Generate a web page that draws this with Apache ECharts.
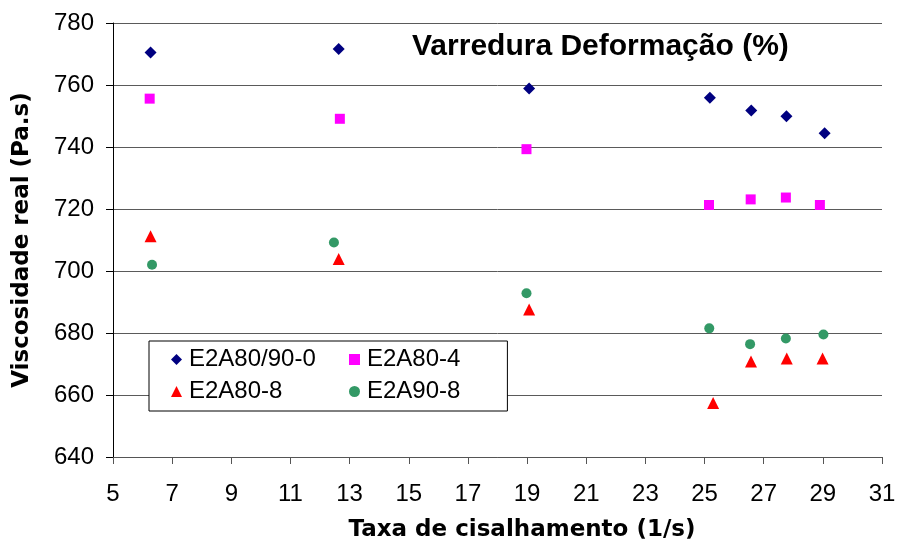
<!DOCTYPE html>
<html>
<head>
<meta charset="utf-8">
<script src="https://cdn.jsdelivr.net/npm/echarts@6/dist/echarts.min.js"></script>
<style>
  html, body { margin: 0; padding: 0; background: #fff; }
  #chart { width: 902px; height: 547px; }
</style>
</head>
<body>
<div id="chart"></div>
<script>
// values (x = shear rate 1/s, y = viscosity Pa.s)
const seriesNames = ['E2A80/90-0', 'E2A80-4', 'E2A80-8', 'E2A90-8'];

const e2a8090_0 = [[6.27, 770.5], [12.63, 771.6], [19.07, 758.9], [25.18, 755.9], [26.58, 751.8], [27.77, 749.9], [29.06, 744.4]];
const e2a80_4 = [[6.24, 755.6], [12.67, 749.1], [18.98, 739.3], [25.15, 721.3], [26.56, 723.1], [27.75, 723.7], [28.9, 721.3]];
const e2a80_8 = [[6.27, 711.2], [12.63, 703.9], [19.07, 687.6], [25.29, 657.4], [26.57, 670.8], [27.78, 671.8], [28.99, 671.8]];
const e2a90_8 = [[6.32, 702.0], [12.47, 709.2], [18.98, 692.8], [25.16, 681.5], [26.54, 676.4], [27.75, 678.2], [29.02, 679.5]];

const xTicks = { min: 5, max: 31, step: 2 };
const yTicks = { min: 640, max: 780, step: 20 };

const chartTitle = 'Varredura Deformação (%)';
const xTitle = 'Taxa de cisalhamento (1/s)';
const yTitle = 'Viscosidade real (Pa.s)';

const chart = echarts.init(document.getElementById('chart'));

// legend items that sit in the left column get a fixed text width
const firstCol = ['E2A80/90-0', 'E2A80-8'];

chart.setOption({
  animation: false,
  backgroundColor: '#fff',
  textStyle: { fontFamily: 'Liberation Sans, Arial, sans-serif' },
  grid: { left: 113, right: 20, top: 23, bottom: 88 },
  graphic: [
    {
      type: 'text',
      left: 412,
      top: 32,
      style: {
        text: chartTitle,
        font: 'bold 30px "Liberation Sans", Arial, sans-serif',
        fill: '#000'
      }
    }
  ],
  legend: {
    data: seriesNames,
    left: 149,
    top: 341,
    width: 300,
    orient: 'horizontal',
    padding: [5, 47, 6, 22],
    itemGap: 5,
    itemWidth: 11,
    itemHeight: 11,
    backgroundColor: '#fff',
    borderColor: '#000',
    borderWidth: 1,
    borderRadius: 0,
    formatter: function (name) {
      return firstCol.indexOf(name) >= 0 ? '{w|' + name + '}' : name;
    },
    textStyle: {
      fontSize: 24,
      color: '#000',
      lineHeight: 27,
      padding: [0, 0, 0, 2],
      rich: {
        w: { width: 155, fontSize: 24, lineHeight: 27 }
      }
    }
  },
  xAxis: {
    type: 'value',
    min: xTicks.min,
    max: xTicks.max,
    interval: xTicks.step,
    name: xTitle,
    nameLocation: 'middle',
    nameGap: 62,
    nameTextStyle: {
      fontFamily: 'DejaVu Sans',
      fontWeight: 'bold',
      fontSize: 23,
      color: '#000',
      padding: [0, 0, 0, 49]
    },
    axisLine: { show: true, lineStyle: { color: '#555', width: 1 } },
    axisTick: { show: true, inside: false, length: 7, lineStyle: { color: '#555' } },
    axisLabel: { fontSize: 24, color: '#000', margin: 25 },
    splitLine: { show: false }
  },
  yAxis: {
    type: 'value',
    min: yTicks.min,
    max: yTicks.max,
    interval: yTicks.step,
    name: yTitle,
    nameLocation: 'middle',
    nameRotate: 90,
    nameGap: 79,
    nameTextStyle: {
      fontFamily: 'DejaVu Sans',
      fontWeight: 'bold',
      fontSize: 23,
      color: '#000'
    },
    axisLine: { show: true, lineStyle: { color: '#000', width: 1 } },
    axisTick: { show: true, inside: false, length: 7, lineStyle: { color: '#000' } },
    axisLabel: { fontSize: 24, color: '#000', margin: 19 },
    splitLine: { show: true, lineStyle: { color: '#5a5a5a', width: 1 } }
  },
  series: [
    {
      name: 'E2A80/90-0',
      type: 'scatter',
      symbol: 'diamond',
      symbolSize: 12,
      itemStyle: { color: '#000080', opacity: 1 },
      data: e2a8090_0
    },
    {
      name: 'E2A80-4',
      type: 'scatter',
      symbol: 'rect',
      symbolSize: 10,
      itemStyle: { color: '#FF00FF', opacity: 1 },
      data: e2a80_4
    },
    {
      name: 'E2A80-8',
      type: 'scatter',
      symbol: 'triangle',
      symbolSize: 12,
      itemStyle: { color: '#FF0000', opacity: 1 },
      data: e2a80_8
    },
    {
      name: 'E2A90-8',
      type: 'scatter',
      symbol: 'circle',
      symbolSize: 10,
      itemStyle: { color: '#339966', opacity: 1 },
      data: e2a90_8
    }
  ]
});
</script>
</body>
</html>
